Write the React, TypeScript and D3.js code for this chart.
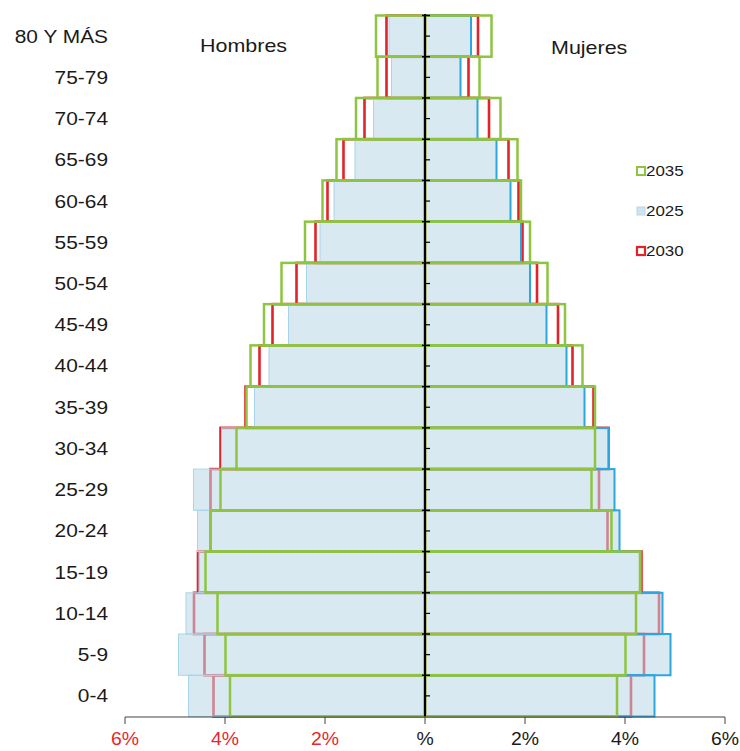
import React from "react";
import * as d3 from "d3";

const categories = ["80 Y MÁS","75-79","70-74","65-69","60-64","55-59","50-54","45-49","40-44","35-39","30-34","25-29","20-24","15-19","10-14","5-9","0-4"];
const men2025 = [0.72,0.67,1.03,1.40,1.82,2.10,2.37,2.73,3.12,3.41,4.07,4.63,4.55,4.52,4.78,4.93,4.73];
const men2030 = [0.77,0.77,1.21,1.63,1.95,2.19,2.57,3.05,3.31,3.59,4.09,4.29,4.29,4.54,4.62,4.41,4.23];
const men2035 = [0.98,0.95,1.38,1.77,2.05,2.40,2.87,3.22,3.49,3.57,3.77,4.09,4.29,4.39,4.15,3.99,3.90];
const women2025 = [0.92,0.71,1.05,1.43,1.71,1.92,2.10,2.43,2.83,3.19,3.68,3.79,3.89,4.32,4.75,4.91,4.59];
const women2030 = [1.06,0.87,1.28,1.67,1.87,1.95,2.24,2.66,2.95,3.37,3.67,3.48,3.65,4.33,4.68,4.38,4.12];
const women2035 = [1.33,1.09,1.51,1.85,1.92,2.10,2.45,2.80,3.15,3.40,3.40,3.33,3.73,4.30,4.22,4.01,3.84];
const xTicks = [-6,-4,-2,0,2,4,6];
const xTickLabels = ["6%","4%","2%","%","2%","4%","6%"];
const legendItems = ["2035","2025","2030"];

const W = 740, H = 751;
const FONT = "'Liberation Sans', Arial, sans-serif";
const GREEN = "#8dc540";
const RED = "#e3232b";
const BLUEFILL = "#b9d7e7";
const BLUE_R = "#2ba6de";
const BLUE_L = "#a9d3e8";
const SX = 1.13;

export default function App() {
  const x = d3.scaleLinear().domain([-6, 6]).range([125, 725]);
  const y = d3.scaleBand<string>().domain(categories).range([15.5, 716.5]).padding(0);
  const bw = y.bandwidth();
  const x0 = x(0);

  const sides = [
    { sign: -1, b: men2025, r: men2030, g: men2035, blueStroke: BLUE_L, blueW: 1 },
    { sign: 1, b: women2025, r: women2030, g: women2035, blueStroke: BLUE_R, blueW: 2 },
  ];

  const rectFor = (sign: number, v: number, cat: string) => {
    const xa = x(sign * v);
    return { x: Math.min(xa, x0), y: y(cat)!, w: Math.abs(xa - x0), h: bw };
  };

  return (
    <svg width={W} height={H} style={{ display: "block", position: "absolute", left: 0, top: 0, background: "#fff" }}>
      {sides.map((s, si) =>
        categories.map((c, i) => {
          const r = rectFor(s.sign, s.r[i], c);
          return <rect key={`r${si}-${i}`} x={r.x} y={r.y} width={r.w} height={r.h} fill="none" stroke={RED} strokeWidth={2.6} />;
        })
      )}
      {sides.map((s, si) =>
        categories.map((c, i) => {
          const r = rectFor(s.sign, s.b[i], c);
          return <rect key={`b${si}-${i}`} x={r.x} y={r.y} width={r.w} height={r.h} fill={BLUEFILL} fillOpacity={0.55} stroke={s.blueStroke} strokeWidth={s.blueW} />;
        })
      )}
      {sides.map((s, si) =>
        categories.map((c, i) => {
          const r = rectFor(s.sign, s.g[i], c);
          return <rect key={`g${si}-${i}`} x={r.x} y={r.y} width={r.w} height={r.h} fill="none" stroke={GREEN} strokeWidth={2.5} />;
        })
      )}
      <line x1={x0} x2={x0} y1={14} y2={716.5} stroke="#000" strokeWidth={2} />
      {categories.map((c, i) => (
        <g key={`t${i}`}>
          <line x1={x0 - 3} x2={x0 + 5} y1={y(c)!} y2={y(c)!} stroke="#000" strokeWidth={1.5} />
          <line x1={x0} x2={x0 + 5} y1={y(c)! + bw / 2} y2={y(c)! + bw / 2} stroke="#000" strokeWidth={1.2} />
        </g>
      ))}
      {categories.map((c, i) => (
        <text key={`l${i}`} transform={`translate(108,${y(c)! + bw / 2}) scale(${SX},1)`} dy="0.35em" textAnchor="end" fontFamily={FONT} fontSize={18.5} fill="#1a1a1a">{c}</text>
      ))}
      <line x1={x(-6)} x2={x(6)} y1={717} y2={717} stroke="#444" strokeWidth={1} />
      {xTicks.map((t, i) => (
        <g key={`xt${i}`}>
          <line x1={x(t)} x2={x(t)} y1={717} y2={724} stroke="#444" strokeWidth={1} />
          <text transform={`translate(${x(t)},745) scale(1.05,1)`} textAnchor="middle" fontFamily={FONT} fontSize={18.5} fill={t < 0 ? "#e8262c" : "#1a1a1a"}>{xTickLabels[i]}</text>
        </g>
      ))}
      <text transform={`translate(200,52) scale(${SX},1)`} fontFamily={FONT} fontSize={19} fill="#1a1a1a">Hombres</text>
      <text transform={`translate(551,54) scale(${SX},1)`} fontFamily={FONT} fontSize={19} fill="#1a1a1a">Mujeres</text>
      {legendItems.map((lab, i) => {
        const cy = 171 + i * 40;
        const marker =
          lab === "2035" ? <rect x={637} y={cy - 4} width={8} height={8} fill="#fff" stroke={GREEN} strokeWidth={2} /> :
          lab === "2025" ? <rect x={637} y={cy - 4} width={8} height={8} fill="#cfe4f0" stroke="#b5d8ea" strokeWidth={1} /> :
          <rect x={637} y={cy - 4} width={8} height={8} fill="#fff" stroke={RED} strokeWidth={2.2} />;
        return (
          <g key={`lg${i}`}>
            {marker}
            <text transform={`translate(646,${cy}) scale(${SX},1)`} dy="0.35em" fontFamily={FONT} fontSize={15} fill="#1a1a1a">{lab}</text>
          </g>
        );
      })}
    </svg>
  );
}
